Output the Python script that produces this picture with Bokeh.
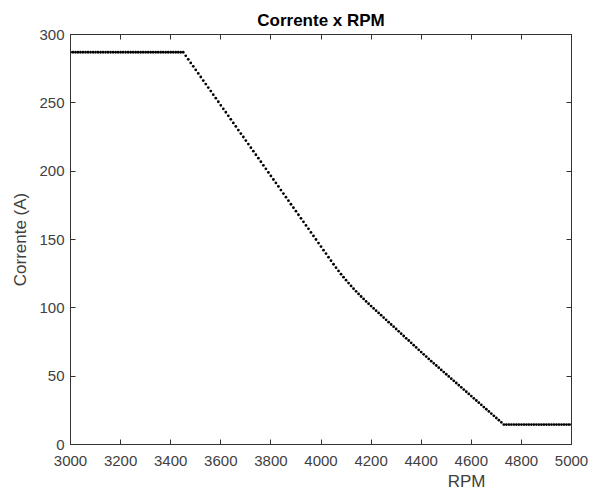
from bokeh.plotting import figure
from bokeh.models import Range1d, FixedTicker, LinearAxis, Title
from bokeh.embed import file_html
from bokeh.resources import INLINE

# ---- data ----
rpm = list(range(3000, 5001, 10))

corrente = [
    # 3000 - 3440 (flat)
    287.0, 287.0, 287.0, 287.0, 287.0, 287.0, 287.0, 287.0, 287.0, 287.0,
    287.0, 287.0, 287.0, 287.0, 287.0, 287.0, 287.0, 287.0, 287.0, 287.0,
    287.0, 287.0, 287.0, 287.0, 287.0, 287.0, 287.0, 287.0, 287.0, 287.0,
    287.0, 287.0, 287.0, 287.0, 287.0, 287.0, 287.0, 287.0, 287.0, 287.0,
    287.0, 287.0, 287.0, 287.0, 287.0,
    # 3450 - 4050
    287.0, 284.4, 281.8, 279.2, 276.7, 274.1, 271.5, 268.9, 266.3, 263.7,
    261.2, 258.6, 256.0, 253.4, 250.8, 248.2, 245.6, 243.1, 240.5, 237.9,
    235.3, 232.7, 230.1, 227.5, 225.0, 222.4, 219.8, 217.2, 214.6, 212.0,
    209.5, 206.9, 204.3, 201.7, 199.1, 196.5, 193.9, 191.4, 188.8, 186.2,
    183.6, 181.0, 178.4, 175.8, 173.3, 170.7, 168.1, 165.5, 162.9, 160.3,
    157.8, 155.2, 152.6, 150.0, 147.4, 144.8, 142.2, 139.7, 137.1, 134.5,
    131.9,
    # 4060 - 4190
    129.4, 127.0, 124.6, 122.4, 120.2, 118.1, 116.0, 114.0, 112.1, 110.2,
    108.3, 106.5, 104.7, 103.0,
    # 4200 - 4430
    101.3, 99.6, 97.9, 96.3, 94.6, 92.9, 91.2, 89.5, 87.8, 86.2,
    84.5, 82.8, 81.1, 79.4, 77.7, 76.1, 74.4, 72.7, 71.0, 69.3,
    67.6, 66.0, 64.3, 62.6,
    # 4440 - 4730
    61.0, 59.4, 57.8, 56.2, 54.6, 53.0, 51.4, 49.8, 48.2, 46.6,
    45.0, 43.4, 41.8, 40.2, 38.6, 37.0, 35.4, 33.8, 32.2, 30.6,
    29.0, 27.4, 25.8, 24.2, 22.6, 21.0, 19.4, 17.8, 16.2, 14.6,
    # 4740 - 5000 (flat)
    14.6, 14.6, 14.6, 14.6, 14.6, 14.6, 14.6, 14.6, 14.6, 14.6,
    14.6, 14.6, 14.6, 14.6, 14.6, 14.6, 14.6, 14.6, 14.6, 14.6,
    14.6, 14.6, 14.6, 14.6, 14.6, 14.6, 14.6,
]

x_ticks = [3000, 3200, 3400, 3600, 3800, 4000, 4200, 4400, 4600, 4800, 5000]
y_ticks = [0, 50, 100, 150, 200, 250, 300]

title_text = "Corrente x RPM"
x_label = "RPM"
y_label = "Corrente (A)"

FONT = "Liberation Sans"
AX = "#333333"
TXT = "#404040"

p = figure(width=590, height=498, output_backend="svg", toolbar_location=None,
           x_range=Range1d(3000, 5000), y_range=Range1d(0, 300),
           min_border_left=70, min_border_right=19, min_border_top=34,
           min_border_bottom=54, title=title_text)

p.title.align = "center"
p.title.text_font = FONT
p.title.text_font_size = "17px"
p.title.text_font_style = "bold"
p.title.text_color = "#000000"
p.title.offset = 0

p.background_fill_color = "white"
p.border_fill_color = "white"
p.outline_line_color = AX
p.outline_line_width = 1
p.xgrid.visible = False
p.ygrid.visible = False

p.xaxis.ticker = FixedTicker(ticks=x_ticks)
p.yaxis.ticker = FixedTicker(ticks=y_ticks)

for ax in (p.xaxis[0], p.yaxis[0]):
    ax.axis_line_color = AX
    ax.major_tick_line_color = AX
    ax.major_tick_in = 5
    ax.major_tick_out = 0
    ax.minor_tick_line_color = None
    ax.major_label_text_font = FONT
    ax.major_label_text_font_size = "15px"
    ax.major_label_text_color = TXT
    ax.axis_label_text_font = FONT
    ax.axis_label_text_font_size = "17px"
    ax.axis_label_text_font_style = "normal"
    ax.axis_label_text_color = TXT

p.xaxis.major_label_standoff = 11
p.yaxis.major_label_standoff = 6
p.yaxis.axis_label = y_label
p.yaxis.axis_label_standoff = 6

# box axes (top and right) with inward ticks, labels not drawn
top = LinearAxis(ticker=FixedTicker(ticks=x_ticks), major_label_text_font_size="0px",
                 major_label_text_color=None, major_label_standoff=0,
                 axis_line_color=AX, major_tick_line_color=AX, major_tick_in=5,
                 major_tick_out=0, minor_tick_line_color=None)
right = LinearAxis(ticker=FixedTicker(ticks=y_ticks), major_label_text_font_size="0px",
                   major_label_text_color=None, major_label_standoff=0,
                   axis_line_color=AX, major_tick_line_color=AX, major_tick_in=5,
                   major_tick_out=0, minor_tick_line_color=None)
p.add_layout(top, "above")
p.add_layout(right, "right")

p.scatter(rpm, corrente, size=2.8, marker="circle", color="black", line_width=0)

# x-axis label sits right of centre in the reference
xlab = Title(text=x_label, align="right", offset=86, text_font=FONT,
             text_font_size="17px", text_font_style="normal", text_color=TXT,
             standoff=3)
p.add_layout(xlab, "below")

open("out.html", "w").write(file_html(p, INLINE))
